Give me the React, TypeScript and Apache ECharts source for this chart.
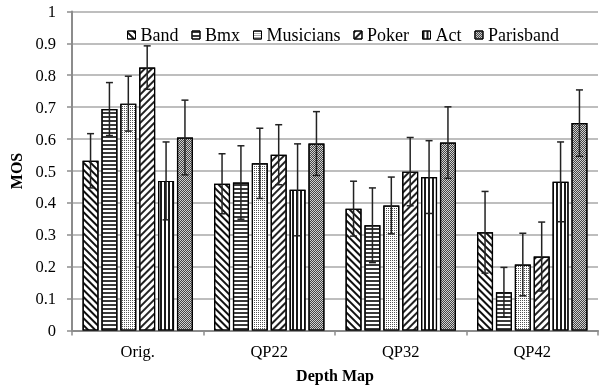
import React, { useEffect, useRef } from "react";
import * as echarts from "echarts";

const categories = ["Orig.", "QP22", "QP32", "QP42"];
const seriesNames = ["Band", "Bmx", "Musicians", "Poker", "Act", "Parisband"];

const band = [0.532, 0.46, 0.382, 0.308];
const bandErr = [0.085, 0.094, 0.086, 0.128];
const bmx = [0.694, 0.464, 0.33, 0.12];
const bmxErr = [0.083, 0.115, 0.117, 0.078];
const musicians = [0.711, 0.524, 0.392, 0.207];
const musiciansErr = [0.086, 0.11, 0.089, 0.098];
const poker = [0.824, 0.551, 0.498, 0.232];
const pokerErr = [0.068, 0.094, 0.107, 0.108];
const act = [0.469, 0.441, 0.481, 0.466];
const actErr = [0.122, 0.144, 0.114, 0.125];
const parisband = [0.605, 0.586, 0.589, 0.65];
const parisbandErr = [0.117, 0.1, 0.112, 0.104];

const values = [band, bmx, musicians, poker, act, parisband];
const errors = [bandErr, bmxErr, musiciansErr, pokerErr, actErr, parisbandErr];

const FONT = "'Liberation Serif', 'Times New Roman', serif";

const styles: any[] = [
  { color: "#ffffff", decal: { symbol: "rect", symbolSize: 1, color: "#111", dashArrayX: [1, 0], dashArrayY: [1.4, 2.2], rotation: Math.PI / 4 } },
  { color: "#ffffff", decal: { symbol: "rect", symbolSize: 1, color: "#3a3a3a", dashArrayX: [1, 0], dashArrayY: [2, 1.3], rotation: 0 } },
  { color: "#ffffff", decal: { symbol: "rect", symbolSize: 1, color: "#555", dashArrayX: [1, 1], dashArrayY: [1, 1], rotation: 0 } },
  { color: "#ffffff", decal: { symbol: "rect", symbolSize: 1, color: "#222", dashArrayX: [1, 0], dashArrayY: [1.2, 2.2], rotation: -Math.PI / 4 } },
  { color: "#ffffff", decal: { symbol: "rect", symbolSize: 1, color: "#1a1a1a", dashArrayX: [1.3, 1.7], dashArrayY: [1, 0], rotation: 0 } },
  { color: "#d0d0d0", decal: { symbol: "rect", symbolSize: 1, color: "#454545", dashArrayX: [[1, 1], [0, 1, 1, 0]], dashArrayY: [1, 0], rotation: 0 } },
];

const BAR_W = 16;
const GAP_PCT = 18;
const STEP = BAR_W * (1 + GAP_PCT / 100);

export default function App() {
  const ref = useRef<HTMLDivElement>(null);
  useEffect(() => {
    if (!ref.current) return;
    const chart = echarts.init(ref.current, null, { renderer: "svg" });
    const barSeries = seriesNames.map((name, i) => ({
      name,
      type: "bar",
      data: values[i],
      barWidth: BAR_W,
      barGap: GAP_PCT + "%",
      itemStyle: { ...styles[i], borderColor: "#000", borderWidth: 1.2 },
      z: 2,
    }));
    const errSeries = seriesNames.map((name, i) => ({
      name: name + "-err",
      type: "custom",
      z: 5,
      data: categories.map((_, c) => [c, values[i][c], errors[i][c]]),
      renderItem: (params: any, api: any) => {
        const c = api.value(0);
        const v = api.value(1);
        const e = api.value(2);
        const top = api.coord([c, v + e]);
        const bot = api.coord([c, v - e]);
        const x = top[0] + (i - 2.5) * STEP;
        const hw = 3.5;
        const st = { stroke: "#222", lineWidth: 1.5 };
        return {
          type: "group",
          children: [
            { type: "line", shape: { x1: x, y1: top[1], x2: x, y2: bot[1] }, style: st },
            { type: "line", shape: { x1: x - hw, y1: top[1], x2: x + hw, y2: top[1] }, style: st },
            { type: "line", shape: { x1: x - hw, y1: bot[1], x2: x + hw, y2: bot[1] }, style: st },
          ],
        };
      },
    }));
    chart.setOption({
      animation: false,
      textStyle: { fontFamily: FONT },
      legend: {
        data: seriesNames,
        left: 122,
        top: 21,
        icon: "rect",
        itemWidth: 8,
        itemHeight: 8,
        itemGap: 13,
        textStyle: { fontFamily: FONT, fontSize: 18, color: "#000" },
        itemStyle: { borderColor: "#000", borderWidth: 1 },
      },
      grid: { left: 72, right: 3, top: 11.4, bottom: 58.4, containLabel: false },
      xAxis: {
        type: "category",
        data: categories,
        name: "Depth Map",
        nameLocation: "middle",
        nameGap: 37,
        nameTextStyle: { fontFamily: FONT, fontSize: 16, fontWeight: "bold", color: "#000" },
        axisLine: { lineStyle: { color: "#8c8c8c", width: 2 } },
        axisTick: { show: true, length: 5, lineStyle: { color: "#8c8c8c", width: 1.5 } },
        axisLabel: { fontFamily: FONT, fontSize: 16.5, color: "#000", margin: 12 },
      },
      yAxis: {
        type: "value",
        min: 0,
        max: 1,
        interval: 0.1,
        name: "MOS",
        nameLocation: "middle",
        nameGap: 44,
        nameTextStyle: { fontFamily: FONT, fontSize: 16, fontWeight: "bold", color: "#000" },
        axisLine: { show: true, lineStyle: { color: "#8c8c8c", width: 2 } },
        axisTick: { show: true, length: 5, lineStyle: { color: "#8c8c8c", width: 1.5 } },
        axisLabel: {
          fontFamily: FONT,
          fontSize: 16.5,
          color: "#000",
          margin: 16,
          formatter: (v: number) => (v === 0 ? "0" : v === 1 ? "1" : v.toFixed(1)),
        },
        splitLine: { lineStyle: { color: "#a8a8a8", width: 1.5 } },
      },
      series: [...barSeries, ...errSeries],
    });
    return () => chart.dispose();
  }, []);
  return <div ref={ref} style={{ position: "fixed", left: 0, top: 0, width: 601, height: 389 }} />;
}
